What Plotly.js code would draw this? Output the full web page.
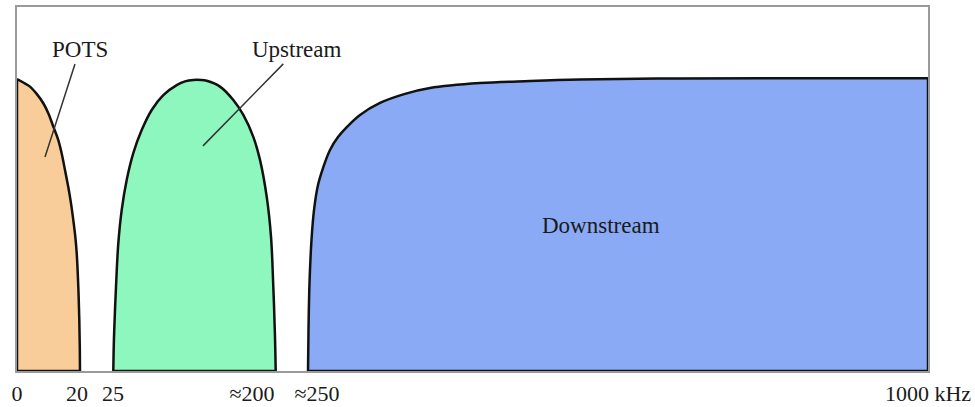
<!DOCTYPE html>
<html>
<head>
<meta charset="utf-8">
<script src="https://cdn.plot.ly/plotly-3.0.1.min.js"></script>
<style>html,body{margin:0;padding:0;background:#fff;}#chart{width:975px;height:407px;}</style>
</head>
<body>
<div id="chart"></div>
<script>
// Schematic frequency position (not to scale) and relative power level
const potsPos = [0, 6.3, 13, 19.7, 26.3, 31.3, 36.3, 41.3, 44.7, 48, 51.3, 54, 56.3, 58.3, 59.7, 61.3, 62.3, 62.8, 63];
const potsLevel = [1.0, 0.988, 0.974, 0.949, 0.917, 0.883, 0.837, 0.791, 0.745, 0.688, 0.630, 0.574, 0.517, 0.460, 0.404, 0.289, 0.175, 0.08, 0];

const upPos = [96.3, 97, 99, 101.3, 104.7, 109.7, 116.3, 124.7, 134.7, 146.3, 159.7, 168, 176.3, 184, 189.7, 203, 216.3, 226.3, 236.3, 243, 249.7, 254, 256.3, 258, 258.7];
const upLevel = [0, 0.117, 0.288, 0.437, 0.551, 0.654, 0.746, 0.825, 0.894, 0.945, 0.979, 0.992, 0.997, 0.997, 0.994, 0.974, 0.928, 0.877, 0.802, 0.723, 0.597, 0.460, 0.289, 0.117, 0];

const downPos = [291, 291.5, 292.5, 294.5, 297, 301, 306, 313, 321, 330, 343, 363, 388, 413, 463, 513, 563, 663, 783, 911];
const downLevel = [0, 0.140, 0.301, 0.449, 0.551, 0.637, 0.695, 0.757, 0.801, 0.836, 0.877, 0.918, 0.949, 0.969, 0.986, 0.993, 0.998, 1.002, 1.003, 1.003];

const tickPos = [0, 60, 96, 235, 300, 911];
const tickLabels = ['0', '20', '25', '\u2248200', '\u2248250', '1000 kHz'];

const bandNames = ['POTS', 'Upstream', 'Downstream'];
const bandColors = ['#F8CD9A', '#8EF7BD', '#8AAAF5'];

const lineColor = '#111';
const lw = 2.5;

function curve(x, y, color) {
  return {x: x, y: y, mode: 'lines', type: 'scatter', fill: 'tozeroy', fillcolor: color,
    line: {color: lineColor, width: lw, shape: 'spline', smoothing: 1}, hoverinfo: 'skip', cliponaxis: false};
}
function edge(x, y) {
  return {x: x, y: y, mode: 'lines', type: 'scatter', line: {color: lineColor, width: lw}, hoverinfo: 'skip', cliponaxis: false};
}

const last = a => a[a.length - 1];

const data = [
  curve(potsPos, potsLevel, bandColors[0]),
  edge([potsPos[0], potsPos[0], last(potsPos)], [potsLevel[0], 0, 0]),
  curve(upPos, upLevel, bandColors[1]),
  edge([upPos[0], last(upPos)], [0, 0]),
  curve(downPos, downLevel, bandColors[2]),
  edge([downPos[0], last(downPos), last(downPos)], [0, 0, last(downLevel)])
];

const font = {family: '"Liberation Serif", "Times New Roman", serif', size: 23, color: '#1a1a1a'};

const layout = {
  width: 975, height: 407,
  margin: {l: 17, r: 47, t: 7, b: 36},
  paper_bgcolor: '#fff', plot_bgcolor: '#fff',
  showlegend: false,
  xaxis: {range: [0, 911], showgrid: false, zeroline: false, showline: true, mirror: true,
    linecolor: '#9a9a9a', linewidth: 2, ticks: '', tickvals: tickPos, ticktext: tickLabels,
    ticklabelstandoff: 2,
    tickfont: {family: font.family, size: 22, color: '#1a1a1a'}, fixedrange: true},
  yaxis: {range: [0, 1.2466], showgrid: false, zeroline: false, showline: true, mirror: true,
    linecolor: '#9a9a9a', linewidth: 2, showticklabels: false, ticks: '', fixedrange: true},
  annotations: [
    {x: 28, y: 0.733, xref: 'x', yref: 'y', text: bandNames[0], font: font,
     showarrow: true, arrowhead: 0, arrowwidth: 1.5, arrowcolor: '#333', ax: 34.5, ay: -107, standoff: 0},
    {x: 186, y: 0.771, xref: 'x', yref: 'y', text: bandNames[1], font: font,
     showarrow: true, arrowhead: 0, arrowwidth: 1.5, arrowcolor: '#333', ax: 94, ay: -96, standoff: 0},
    {x: 584, y: 0.5, xref: 'x', yref: 'y', text: bandNames[2], font: font, showarrow: false}
  ]
};

Plotly.newPlot('chart', data, layout, {displayModeBar: false, staticPlot: true});
</script>
</body>
</html>
